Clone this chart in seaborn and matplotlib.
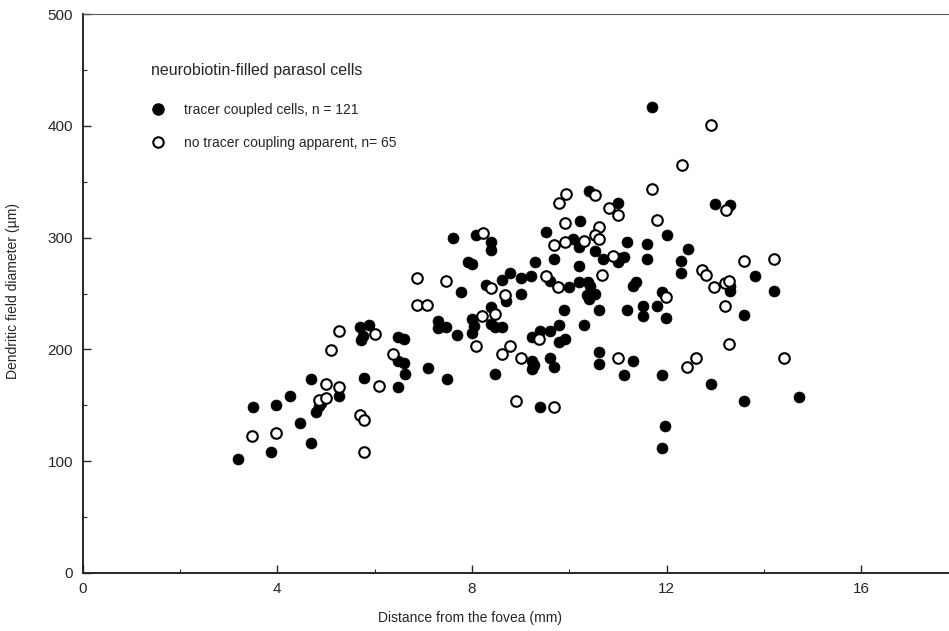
import matplotlib
matplotlib.use("Agg")
import matplotlib.pyplot as plt
from matplotlib.lines import Line2D
from matplotlib.ticker import MultipleLocator
import pandas as pd
import seaborn as sns

# tracer coupled cells (filled), n = 121
coupled_x = [3.20, 3.49, 3.87, 3.97, 4.27, 4.47, 4.70, 4.70, 4.79, 4.86,
             5.26, 5.70, 5.88, 5.71, 5.79, 6.48, 6.60, 6.47, 6.60, 6.62,
             6.48, 7.61, 8.09, 8.39, 8.39, 7.91, 8.00, 7.77, 8.29, 8.61,
             8.78, 9.00, 9.22, 9.30, 9.53, 10.22, 10.07, 10.20, 9.68, 10.20,
             10.53, 10.69, 11.00, 11.12, 11.19, 11.00, 9.61, 9.99, 10.20, 10.39,
             10.36, 10.40, 10.53, 9.00, 8.70, 8.39, 9.90, 10.60, 11.19, 7.30,
             7.31, 7.47, 8.00, 8.00, 7.70, 8.39, 8.47, 8.62, 7.09, 7.48,
             8.47, 9.23, 9.40, 9.60, 9.78, 9.79, 9.92, 10.30, 9.23, 9.23,
             9.60, 9.68, 10.60, 10.60, 11.13, 9.39, 11.69, 12.99, 13.30, 10.40,
             11.60, 12.00, 11.60, 12.43, 12.30, 12.30, 13.82, 11.37, 11.30, 14.20,
             11.90, 13.30, 11.51, 11.51, 11.81, 11.99, 13.59, 11.30, 11.90, 12.90,
             13.59, 14.72, 11.97, 11.90, 13.30, 4.90, 5.75, 10.42, 9.28, 8.05,
             11.05]
coupled_y = [102, 148, 108, 150, 158, 134, 173, 116, 144, 149,
             158, 220, 222, 208, 174, 211, 209, 190, 188, 178,
             166, 300, 302, 296, 289, 278, 276, 251, 258, 262,
             268, 264, 266, 278, 305, 315, 299, 292, 281, 275,
             288, 281, 278, 283, 296, 331, 261, 256, 260, 260,
             249, 245, 250, 250, 243, 238, 235, 235, 235, 225,
             219, 220, 227, 215, 213, 223, 220, 220, 183, 173,
             178, 211, 216, 216, 222, 207, 209, 222, 190, 182,
             192, 184, 198, 187, 177, 148, 417, 330, 329, 342,
             294, 302, 281, 290, 279, 268, 266, 260, 257, 252,
             251, 252, 239, 230, 239, 228, 231, 190, 177, 169,
             154, 157, 131, 112, 257, 152, 212, 257, 186, 221,
             282]

# no tracer coupling apparent (open), n = 65
uncoupled_x = [3.48, 3.97, 4.86, 5.01, 5.01, 5.26, 5.10, 5.27, 6.01, 6.09,
               6.38, 5.70, 5.79, 5.78, 9.79, 10.82, 11.00, 9.91, 10.61, 8.22,
               10.52, 10.61, 10.30, 9.91, 9.68, 10.90, 6.86, 7.47, 9.51, 9.77,
               10.68, 8.38, 8.68, 6.86, 7.08, 8.21, 8.47, 9.38, 8.08, 8.78,
               8.61, 9.00, 10.99, 8.90, 9.68, 12.92, 12.31, 11.69, 10.52, 11.81,
               13.21, 13.59, 14.20, 12.72, 12.81, 12.98, 13.20, 13.29, 11.98, 13.20,
               13.29, 12.60, 12.42, 14.42, 9.93]
uncoupled_y = [122, 125, 155, 156, 169, 166, 199, 216, 214, 167,
               196, 141, 137, 108, 331, 327, 320, 313, 310, 304,
               302, 299, 297, 296, 293, 284, 264, 261, 266, 256,
               267, 255, 249, 240, 240, 230, 232, 209, 203, 203,
               196, 192, 192, 154, 148, 401, 365, 344, 338, 316,
               325, 279, 281, 271, 267, 256, 259, 261, 247, 239,
               205, 192, 184, 192, 339]

legend_title = "neurobiotin-filled parasol cells"
coupled_label = "tracer coupled cells, n = 121"
uncoupled_label = "no tracer coupling apparent, n= 65"

sns.set_style("ticks")
plt.rcParams['font.family'] = ['Liberation Sans', 'DejaVu Sans']

fig = plt.figure(figsize=(9.49, 6.31), dpi=100)
ax = fig.add_axes([0.0871, 0.0924, 0.9129, 0.8849])

df_c = pd.DataFrame({"x": coupled_x, "y": coupled_y})
df_u = pd.DataFrame({"x": uncoupled_x, "y": uncoupled_y})

sns.scatterplot(data=df_c, x="x", y="y", ax=ax, color="black", s=62,
                edgecolor="black", linewidth=0.5, zorder=3)
sns.scatterplot(data=df_u, x="x", y="y", ax=ax, facecolor="white", s=58,
                edgecolor="black", linewidth=1.5, zorder=4)

ax.set_xlim(0, 17.8)
ax.set_ylim(0, 500)
ax.xaxis.set_major_locator(MultipleLocator(4))
ax.xaxis.set_minor_locator(MultipleLocator(2))
ax.yaxis.set_major_locator(MultipleLocator(100))
ax.yaxis.set_minor_locator(MultipleLocator(50))
ax.tick_params(which="major", direction="in", length=6, width=1, labelsize=11, pad=7)
ax.tick_params(which="minor", direction="in", length=3, width=0.8)

ax.spines["right"].set_visible(False)
ax.spines["left"].set_linewidth(1.4)
ax.spines["bottom"].set_linewidth(1.4)
ax.spines["top"].set_linewidth(0.8)
ax.spines["top"].set_color("0.35")

ax.set_xlabel("Distance from the fovea (mm)", fontsize=10)
ax.set_ylabel("Dendritic field diameter (\u00b5m)", fontsize=10)
ax.xaxis.set_label_coords(0.447, -0.068)
ax.yaxis.set_label_coords(-0.072, 0.505)

handles = [
    Line2D([], [], marker="o", linestyle="none", markersize=8,
           markerfacecolor="black", markeredgecolor="black"),
    Line2D([], [], marker="o", linestyle="none", markersize=7.5,
           markerfacecolor="white", markeredgecolor="black", markeredgewidth=1.5),
]
leg = ax.legend(handles, [coupled_label, uncoupled_label], title=legend_title,
                loc="upper left", bbox_to_anchor=(0.079, 0.913), frameon=False,
                fontsize=10, title_fontsize=11.5, alignment="left",
                labelspacing=1.35, handlelength=1.0, handletextpad=1.4,
                borderpad=0, borderaxespad=0)
leg._legend_box.sep = 18

fig.savefig("out.png", dpi=100)
